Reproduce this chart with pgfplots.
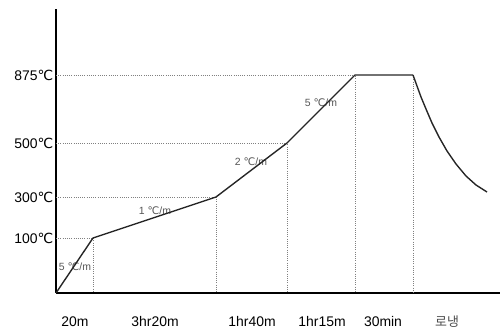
\documentclass[border=0pt]{standalone}
\usepackage{fontspec}
\setmainfont{Liberation Sans}
\newfontfamily\kr{Noto Sans CJK KR}
\newfontfamily\djsans{DejaVu Sans}
\usepackage{pgfplots}
\pgfplotsset{compat=1.18}
\newcommand\degC{{\djsans ℃}}
\definecolor{lineC}{HTML}{262626}
\definecolor{rateC}{HTML}{555555}
\begin{document}
\begin{tikzpicture}
\begin{axis}[
  scale only axis, width=444bp, height=284bp,
  xmin=0, xmax=444, ymin=0, ymax=284,
  axis x line*=bottom, axis y line*=left,
  axis line style={-, line width=2pt, black},
  xtick=\empty,
  ytick={55,96,150,218},
  yticklabels={100\degC,300\degC,500\degC,875\degC},
  major tick length=0pt,
  yticklabel style={font=\fontsize{14}{16}\selectfont, text=black, inner xsep=2.5bp},
  clip=false,
]
% dotted guide lines
\addplot[gray, line width=0.6pt, dash pattern=on 0.7pt off 1.5pt] coordinates {(0,55) (37,55) (37,0)};
\addplot[gray, line width=0.6pt, dash pattern=on 0.7pt off 1.5pt] coordinates {(0,96) (160,96) (160,0)};
\addplot[gray, line width=0.6pt, dash pattern=on 0.7pt off 1.5pt] coordinates {(0,150) (231,150) (231,0)};
\addplot[gray, line width=0.6pt, dash pattern=on 0.7pt off 1.5pt] coordinates {(0,218) (299,218) (299,0)};
\addplot[gray, line width=0.6pt, dash pattern=on 0.7pt off 1.5pt] coordinates {(357,218) (357,0)};
% rate labels
\node[text=rateC, font=\fontsize{10.5}{12}\selectfont] at (axis cs:19,26) {5 \degC/m};
\node[text=rateC, font=\fontsize{10.5}{12}\selectfont] at (axis cs:99,82) {1 \degC/m};
\node[text=rateC, font=\fontsize{10.5}{12}\selectfont] at (axis cs:195,131) {2 \degC/m};
\node[text=rateC, font=\fontsize{10.5}{12}\selectfont] at (axis cs:265,190) {5 \degC/m};
% heating profile
\addplot[lineC, line width=1.4pt, line join=round] coordinates {(0,0) (37,55) (160,96) (231,150) (299,218) (357,218)};
% furnace cooling
\addplot[lineC, line width=1.4pt, line join=round] coordinates {(357,218) (361,207) (365,196) (370,184) (376,170) (383,156) (391,142) (400,129) (410,117) (420,108) (431,101)};
% time labels
\node[font=\fontsize{14}{16}\selectfont] at (axis cs:19,-29) {20m};
\node[font=\fontsize{14}{16}\selectfont] at (axis cs:99,-29) {3hr20m};
\node[font=\fontsize{14}{16}\selectfont] at (axis cs:196,-29) {1hr40m};
\node[font=\fontsize{14}{16}\selectfont] at (axis cs:266,-29) {1hr15m};
\node[font=\fontsize{14}{16}\selectfont] at (axis cs:327,-29) {30min};
\node[font=\kr\fontsize{13}{15}\selectfont, text=black!70] at (axis cs:391,-29) {로냉};
\end{axis}
\pgfresetboundingbox
\path ([xshift=-56bp,yshift=-36bp]current axis.south west) rectangle ([yshift=9bp]current axis.north east);
\end{tikzpicture}
\end{document}
